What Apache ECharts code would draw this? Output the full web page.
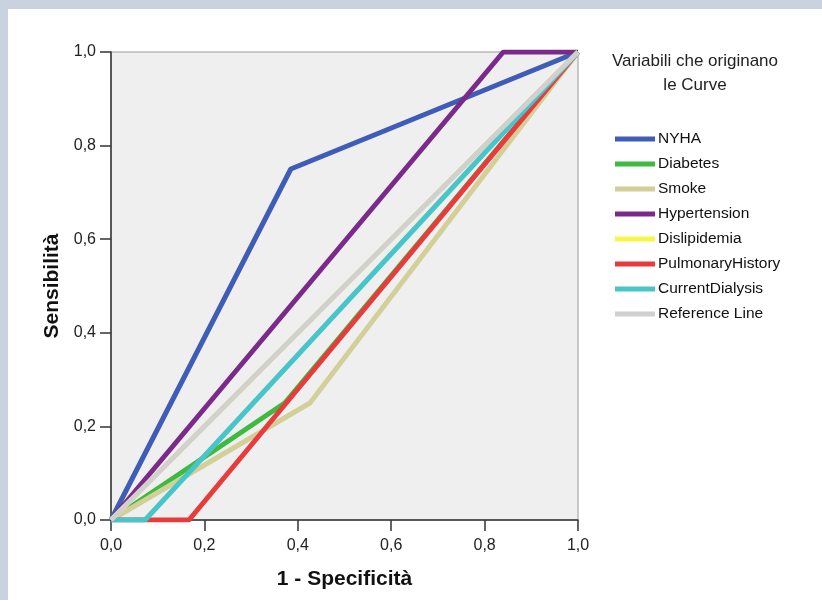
<!DOCTYPE html>
<html><head><meta charset="utf-8">
<script src="https://cdn.jsdelivr.net/npm/echarts@6/dist/echarts.min.js"></script>
<style>html,body{margin:0;padding:0;}#c{width:822px;height:600px;}</style>
</head><body><div id="c"></div>
<script>
const seriesNames = ['NYHA','Diabetes','Smoke','Hypertension','Dislipidemia','PulmonaryHistory','CurrentDialysis','Reference Line'];
const NYHA = [[0,0],[0.385,0.75],[1,1]];
const Diabetes = [[0,0],[0.372,0.25],[1,1]];
const Smoke = [[0,0],[0.426,0.25],[1,1]];
const Hypertension = [[0,0],[0.84,1],[1,1]];
const Dislipidemia = [[0,0],[1,1]];
const PulmonaryHistory = [[0,0],[0.167,0],[1,1]];
const CurrentDialysis = [[0,0],[0.073,0],[1,1]];
const ReferenceLine = [[0,0],[1,1]];
const seriesData = [NYHA,Diabetes,Smoke,Hypertension,Dislipidemia,PulmonaryHistory,CurrentDialysis,ReferenceLine];
const colors = ['#3f5cb6','#3dba3f','#d3cf98','#7b2a8b','#f7f54a','#e83b3b','#47c5c9','#d0d0d0'];
const ticks = [0,0.2,0.4,0.6,0.8,1.0];

const chart = echarts.init(document.getElementById('c'));
const fmt = v => v.toFixed(1).replace('.', ',');
chart.setOption({
  backgroundColor: '#c9d3df',
  animation: false,
  graphic: [{type:'rect', left:8, top:9, z:-10, shape:{width:814, height:591}, style:{fill:'#ffffff'}, silent:true}],
  title: {text:'Variabili che originano\nle Curve', left:695, top:49, textAlign:'center', padding:0,
    textStyle:{fontFamily:'Liberation Sans', fontSize:17, fontWeight:'normal', color:'#222', lineHeight:24}},
  legend: {orient:'vertical', left:615, top:131, padding:0, itemWidth:40, itemHeight:5, itemGap:9, icon:'rect',
    data: seriesNames,
    textStyle:{fontFamily:'Liberation Sans', fontSize:15.5, color:'#111', lineHeight:16, padding:[0,0,0,-2]}},
  grid: {left:111, right:244, top:52, bottom:80, show:true, backgroundColor:'#efefef', borderColor:'#9a9a9a', borderWidth:1},
  xAxis: {type:'value', min:0, max:1, interval:0.2,
    name:'1 - Specificità', nameLocation:'middle', nameGap:49,
    nameTextStyle:{fontFamily:'Liberation Sans', fontSize:21, fontWeight:'bold', color:'#111'},
    axisLine:{show:true, lineStyle:{color:'#333', width:1.5}},
    axisTick:{show:true, length:11, lineStyle:{color:'#333', width:1.5}},
    axisLabel:{formatter:fmt, fontFamily:'Liberation Sans', fontSize:16, color:'#222', margin:18},
    splitLine:{show:false}},
  yAxis: {type:'value', min:0, max:1, interval:0.2,
    name:'Sensibilità', nameLocation:'middle', nameGap:48,
    nameTextStyle:{fontFamily:'Liberation Sans', fontSize:21, fontWeight:'bold', color:'#111'},
    axisLine:{show:true, lineStyle:{color:'#333', width:1.5}},
    axisTick:{show:true, length:11, lineStyle:{color:'#333', width:1.5}},
    axisLabel:{formatter:fmt, fontFamily:'Liberation Sans', fontSize:16, color:'#222', margin:15},
    splitLine:{show:false}},
  series: seriesNames.map((n,i)=>({
    name:n, type:'line', data:seriesData[i], showSymbol:false, symbol:'none', z:2+i,
    lineStyle:{color:colors[i], width:5}, itemStyle:{color:colors[i]}, emphasis:{disabled:true}
  }))
});
</script></body></html>
